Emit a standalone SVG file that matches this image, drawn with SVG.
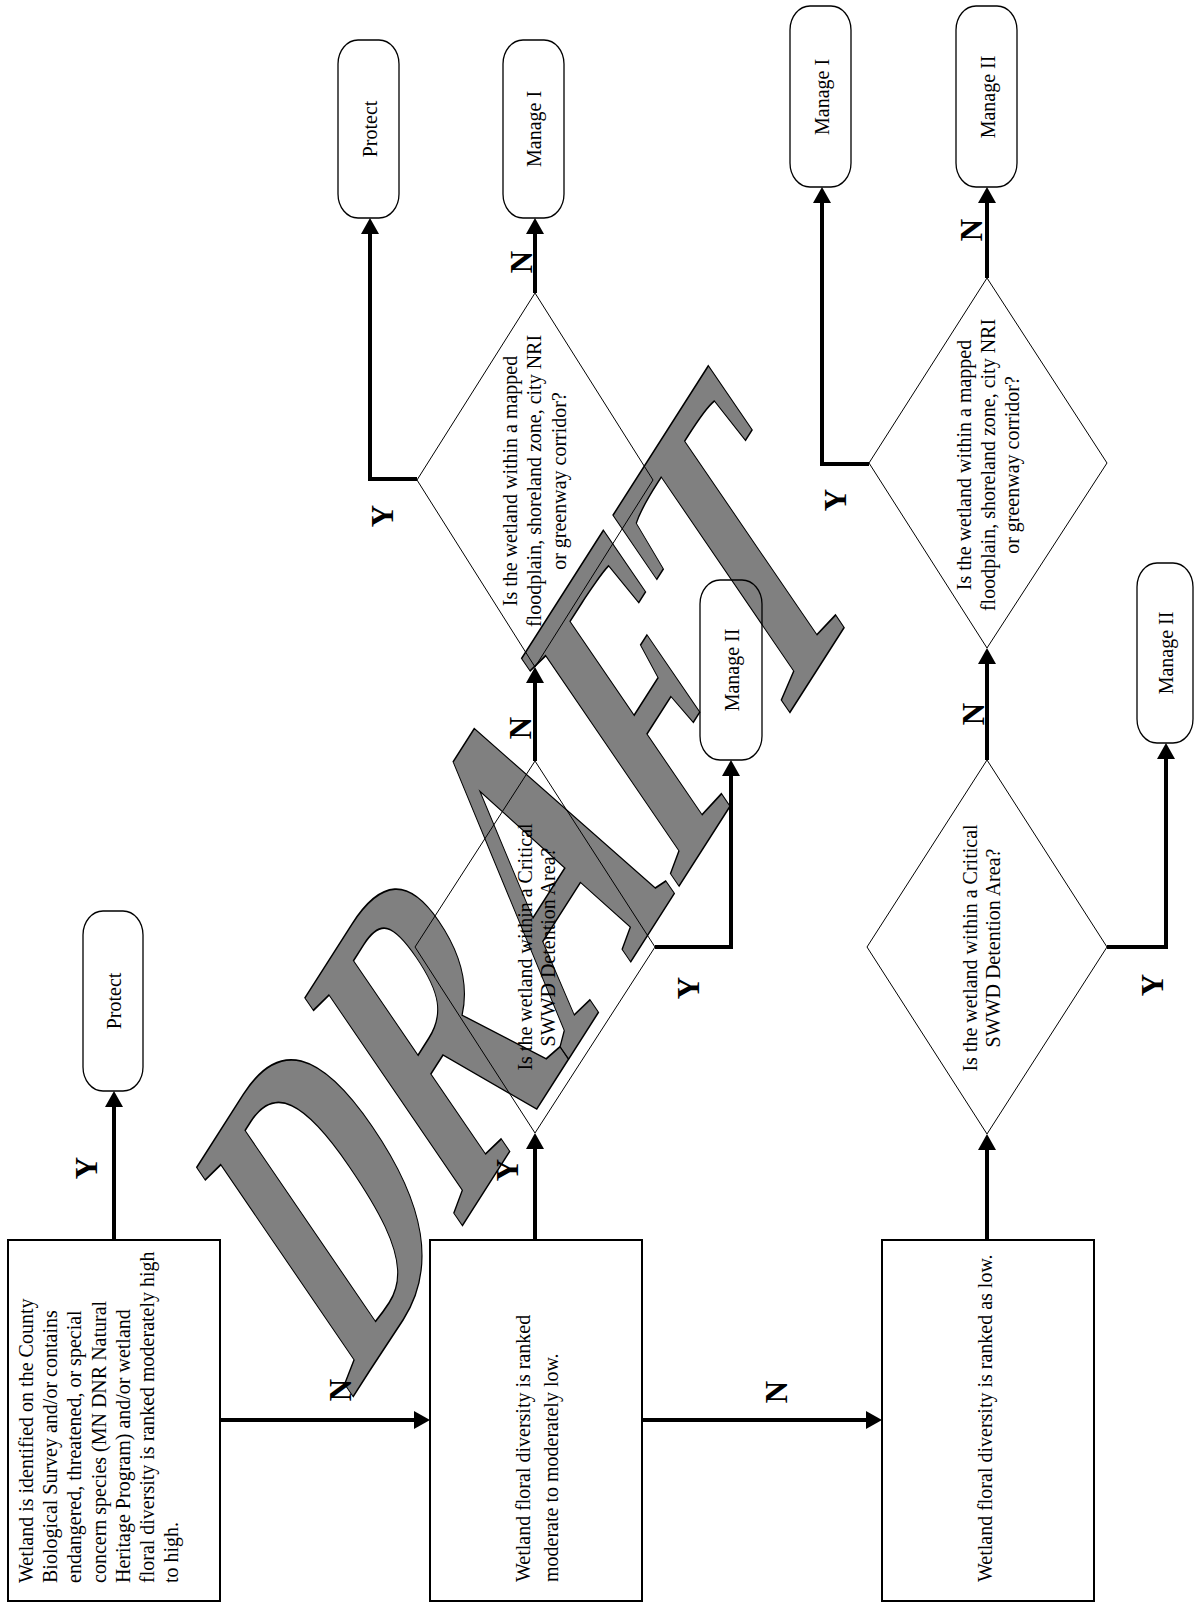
<svg xmlns="http://www.w3.org/2000/svg" width="1194" height="1603" viewBox="0 0 1194 1603">
<defs>
<style>
.box{fill:none;stroke:#000;stroke-width:2}
.term{fill:none;stroke:#000;stroke-width:1.3}
.dia{fill:none;stroke:#000;stroke-width:1}
.conn{fill:none;stroke:#000;stroke-width:4}
.t{font-family:"Liberation Serif","Times New Roman",serif;font-size:20px;fill:#000}
.m{text-anchor:middle}
.lbl{font-family:"Liberation Serif","Times New Roman",serif;font-size:31px;font-weight:bold;fill:#000;text-anchor:middle}
.wm{font-family:"Liberation Serif","Times New Roman",serif;font-size:100px;font-weight:bold;fill:#808080;stroke:#000;stroke-width:0.4}
</style>
<marker id="ah" markerUnits="userSpaceOnUse" viewBox="0 0 16 18" markerWidth="16" markerHeight="18" refX="6" refY="9" orient="auto"><path d="M0,0 L16,9 L0,18 Z" fill="#000"/></marker>
</defs>
<rect width="1194" height="1603" fill="#fff"/>

<g id="watermark">
<text class="wm" transform="matrix(1.50,-2.35,2.39,3.50,350.5,1400.8)">DRAFT</text>
</g>

<g id="connectors">
<path class="conn" marker-end="url(#ah)" d="M114,1240 V1101"/>
<path class="conn" marker-end="url(#ah)" d="M220,1420 H420"/>
<path class="conn" marker-end="url(#ah)" d="M535,1240 V1143"/>
<path class="conn" marker-end="url(#ah)" d="M655,947 H731 V770"/>
<path class="conn" marker-end="url(#ah)" d="M535,761 V677"/>
<path class="conn" marker-end="url(#ah)" d="M417,479 H370 V228"/>
<path class="conn" marker-end="url(#ah)" d="M535,293 V228"/>
<path class="conn" marker-end="url(#ah)" d="M642,1420 H872"/>
<path class="conn" marker-end="url(#ah)" d="M987,1240 V1144"/>
<path class="conn" marker-end="url(#ah)" d="M1107,947 H1166 V753"/>
<path class="conn" marker-end="url(#ah)" d="M987,760 V658"/>
<path class="conn" marker-end="url(#ah)" d="M869,464 H822 V197"/>
<path class="conn" marker-end="url(#ah)" d="M987,278 V197"/>
<text class="lbl" transform="translate(97,1168) rotate(-90)">Y</text>
<text class="lbl" transform="translate(351,1390) rotate(-90)">N</text>
<text class="lbl" transform="translate(518,1170) rotate(-90)">Y</text>
<text class="lbl" transform="translate(699,988) rotate(-90)">Y</text>
<text class="lbl" transform="translate(531,728) rotate(-90)">N</text>
<text class="lbl" transform="translate(393,516) rotate(-90)">Y</text>
<text class="lbl" transform="translate(532,262) rotate(-90)">N</text>
<text class="lbl" transform="translate(787,1392) rotate(-90)">N</text>
<text class="lbl" transform="translate(1163,985) rotate(-90)">Y</text>
<text class="lbl" transform="translate(984,714) rotate(-90)">N</text>
<text class="lbl" transform="translate(846,500) rotate(-90)">Y</text>
<text class="lbl" transform="translate(982,230) rotate(-90)">N</text>
</g>

<g id="box1">
<rect class="box" x="8" y="1240" width="212" height="361"/>
<g transform="translate(0,1583) rotate(-90)">
<text class="t" x="0" y="33">Wetland is identified on the County</text>
<text class="t" x="0" y="57">Biological Survey and/or contains</text>
<text class="t" x="0" y="81">endangered, threatened, or special</text>
<text class="t" x="0" y="106">concern species (MN DNR Natural</text>
<text class="t" x="0" y="130">Heritage Program) and/or wetland</text>
<text class="t" x="0" y="154">floral diversity is ranked moderately high</text>
<text class="t" x="0" y="178">to high.</text>
</g>
</g>

<g id="box2">
<rect class="box" x="430" y="1240" width="212" height="361"/>
<g transform="translate(0,1582) rotate(-90)">
<text class="t" x="0" y="530">Wetland floral diversity is ranked</text>
<text class="t" x="0" y="558">moderate to moderately low.</text>
</g>
</g>

<g id="box3">
<rect class="box" x="882" y="1240" width="212" height="361"/>
<g transform="translate(0,1582) rotate(-90)">
<text class="t" x="0" y="992">Wetland floral diversity is ranked as low.</text>
</g>
</g>

<g id="t1">
<rect class="term" x="83" y="911" width="60" height="180" rx="20" ry="24"/>
<text class="t m" transform="translate(121,1001) rotate(-90)">Protect</text>
</g>
<g id="t2">
<rect class="term" x="338" y="40" width="61" height="178" rx="20" ry="24"/>
<text class="t m" transform="translate(377,129) rotate(-90)">Protect</text>
</g>
<g id="t3">
<rect class="term" x="503" y="40" width="61" height="178" rx="20" ry="24"/>
<text class="t m" transform="translate(541,129) rotate(-90)">Manage I</text>
</g>
<g id="t4">
<rect class="term" x="700" y="580" width="62" height="180" rx="20" ry="24"/>
<text class="t m" transform="translate(739,670) rotate(-90)">Manage II</text>
</g>
<g id="t5">
<rect class="term" x="790" y="6" width="61" height="181" rx="20" ry="24"/>
<text class="t m" transform="translate(829,97) rotate(-90)">Manage I</text>
</g>
<g id="t6">
<rect class="term" x="956" y="6" width="61" height="181" rx="20" ry="24"/>
<text class="t m" transform="translate(995,97) rotate(-90)">Manage II</text>
</g>
<g id="t7">
<rect class="term" x="1137" y="563" width="56" height="180" rx="20" ry="24"/>
<text class="t m" transform="translate(1173,653) rotate(-90)">Manage II</text>
</g>

<g id="d1">
<polygon class="dia" points="535,761 655,947 535,1133 415,947"/>
<g transform="translate(0,947) rotate(-90)">
<text class="t m" x="0" y="532">Is the wetland within a Critical</text>
<text class="t m" x="0" y="555">SWWD Detention Area?</text>
</g>
</g>
<g id="d2">
<polygon class="dia" points="535,293 653,480 535,667 417,480"/>
<g transform="translate(0,481) rotate(-90)">
<text class="t m" x="0" y="517">Is the wetland within a mapped</text>
<text class="t m" x="0" y="541">floodplain, shoreland zone, city NRI</text>
<text class="t m" x="0" y="566">or greenway corridor?</text>
</g>
</g>
<g id="d3">
<polygon class="dia" points="987,278 1107,463 987,648 869,463"/>
<g transform="translate(0,465) rotate(-90)">
<text class="t m" x="0" y="971">Is the wetland within a mapped</text>
<text class="t m" x="0" y="995">floodplain, shoreland zone, city NRI</text>
<text class="t m" x="0" y="1019">or greenway corridor?</text>
</g>
</g>
<g id="d4">
<polygon class="dia" points="987,760 1107,947 987,1134 867,947"/>
<g transform="translate(0,948) rotate(-90)">
<text class="t m" x="0" y="977">Is the wetland within a Critical</text>
<text class="t m" x="0" y="1000">SWWD Detention Area?</text>
</g>
</g>
</svg>
